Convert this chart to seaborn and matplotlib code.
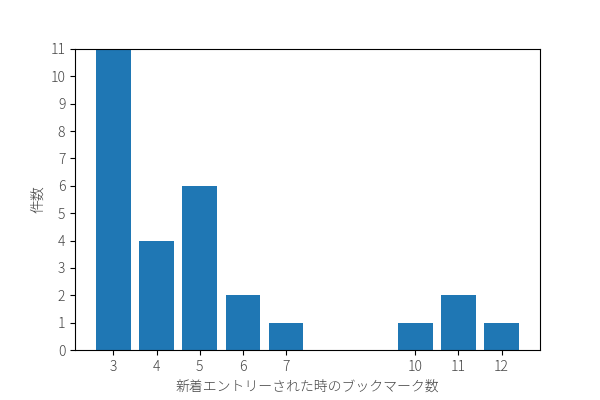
import numpy as np
import pandas as pd
import seaborn as sns
import matplotlib
matplotlib.use('Agg')
import matplotlib.pyplot as plt

# bookmark counts and number of entries
bookmarks = [3, 4, 5, 6, 7, 10, 11, 12]
counts = [11, 4, 6, 2, 1, 1, 2, 1]

plt.rcParams['font.family'] = ['Noto Sans CJK JP', 'DejaVu Sans']

df = pd.DataFrame({'bookmarks': bookmarks, 'counts': counts})

fig, ax = plt.subplots(figsize=(6, 4), dpi=100)
fig.subplots_adjust(left=0.125, right=0.9, bottom=0.125, top=0.8775)

sns.barplot(data=df, x='bookmarks', y='counts', native_scale=True,
            color='#1f77b4', saturation=1, width=0.8, ax=ax)

ax.set_xticks(bookmarks)
ax.set_xticklabels([str(b) for b in bookmarks])
ax.set_yticks(range(0, 12))
ax.set_ylim(0, 11)
ax.set_xlim(2.11, 12.89)

text_color = '#444444'
ax.tick_params(colors='black', labelcolor=text_color)
ax.set_xlabel('新着エントリーされた時のブックマーク数', color=text_color, fontweight='light')
ax.set_ylabel('件数', color=text_color, fontweight='light')
for lab in ax.get_xticklabels() + ax.get_yticklabels():
    lab.set_fontweight('light')

plt.savefig('out.png', dpi=100)
plt.close()
